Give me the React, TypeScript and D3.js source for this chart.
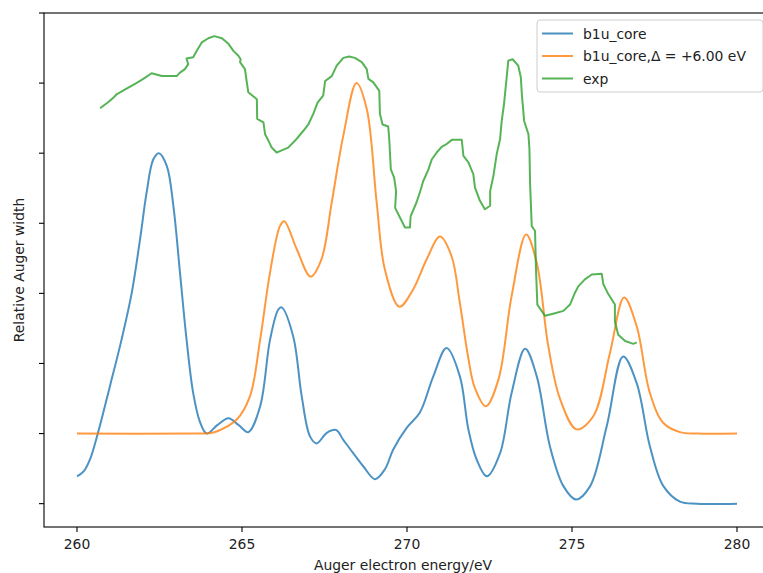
import React from "react";
import * as d3 from "d3";

// energies (eV) and relative widths
const b1uCore: [number, number][] = [
  [260.0, 0.39], [260.2, 0.46], [260.4, 0.64], [260.63, 1.0], [261.0, 1.68],
  [261.35, 2.34], [261.66, 3.01], [261.91, 3.77], [262.11, 4.44], [262.31, 4.91],
  [262.48, 5.0], [262.72, 4.82], [262.92, 4.25], [263.12, 3.3], [263.32, 2.34],
  [263.52, 1.58], [263.73, 1.16], [263.93, 1.0], [264.25, 1.12], [264.59, 1.22],
  [264.9, 1.12], [265.19, 1.02], [265.55, 1.39], [265.85, 2.34], [266.1, 2.77],
  [266.2, 2.8], [266.55, 2.39], [266.81, 1.53], [267.06, 0.96], [267.26, 0.86],
  [267.57, 1.01], [267.85, 1.05], [268.07, 0.91], [268.37, 0.72], [268.68, 0.53],
  [269.03, 0.35], [269.33, 0.49], [269.58, 0.77], [269.99, 1.08], [270.39, 1.3],
  [270.8, 1.82], [271.2, 2.22], [271.6, 1.82], [271.86, 1.06], [272.11, 0.63],
  [272.42, 0.39], [272.82, 0.72], [273.17, 1.58], [273.58, 2.21], [273.93, 1.82],
  [274.33, 0.82], [274.74, 0.25], [275.12, 0.06], [275.55, 0.25], [276.05, 1.1],
  [276.55, 2.1], [276.96, 1.72], [277.36, 0.82], [277.77, 0.25], [278.27, 0.03],
  [278.8, 0.0], [280.0, 0.0],
];

const b1uShifted: [number, number][] = [
  [260.0, 1.0], [263.5, 1.0], [264.0, 1.005], [264.23, 1.03], [264.84, 1.2],
  [265.24, 1.53], [265.55, 2.34], [265.85, 3.3], [266.15, 3.96], [266.28, 4.03],
  [266.66, 3.63], [267.08, 3.24], [267.41, 3.49], [267.72, 4.3], [268.07, 5.25],
  [268.47, 6.0], [268.78, 5.63], [269.08, 4.3], [269.33, 3.34], [269.77, 2.81],
  [270.19, 3.06], [270.6, 3.49], [271.0, 3.81], [271.35, 3.53], [271.6, 2.87],
  [271.85, 2.1], [272.05, 1.66], [272.39, 1.39], [272.77, 1.77], [273.17, 2.96],
  [273.61, 3.84], [273.93, 3.44], [274.28, 2.25], [274.64, 1.49], [275.14, 1.06],
  [275.65, 1.25], [276.15, 2.15], [276.58, 2.94], [276.96, 2.53], [277.36, 1.58],
  [277.77, 1.15], [278.27, 1.02], [278.8, 1.0], [280.0, 1.0],
];

const expData: [number, number][] = [
  [260.7, 5.64], [260.95, 5.73], [261.1, 5.79], [261.2, 5.84], [261.46, 5.91],
  [261.76, 5.99], [262.01, 6.06], [262.26, 6.14], [262.57, 6.1], [263.02, 6.1],
  [263.12, 6.15], [263.27, 6.2], [263.37, 6.27], [263.32, 6.35], [263.52, 6.37],
  [263.63, 6.46], [263.78, 6.58], [263.98, 6.64], [264.16, 6.67], [264.39, 6.64],
  [264.59, 6.56], [264.74, 6.46], [264.89, 6.39], [264.96, 6.34], [264.94, 6.3],
  [265.09, 6.2], [265.14, 6.03], [265.19, 5.87], [265.45, 5.77], [265.46, 5.49],
  [265.65, 5.44], [265.7, 5.27], [265.8, 5.18], [265.9, 5.08], [266.05, 5.01],
  [266.15, 5.03], [266.4, 5.08], [266.61, 5.18], [266.86, 5.32], [267.01, 5.41],
  [267.16, 5.56], [267.29, 5.72], [267.46, 5.82], [267.52, 6.03], [267.72, 6.1],
  [267.87, 6.25], [268.07, 6.36], [268.25, 6.38], [268.42, 6.36], [268.63, 6.3],
  [268.78, 6.2], [268.83, 6.06], [268.98, 6.01], [269.16, 5.89], [269.18, 5.56],
  [269.26, 5.41], [269.43, 5.38], [269.46, 5.22], [269.51, 4.77], [269.61, 4.65],
  [269.67, 4.46], [269.64, 4.22], [269.79, 4.08], [269.94, 3.94], [270.09, 3.94],
  [270.11, 4.1], [270.29, 4.3], [270.39, 4.44], [270.49, 4.6], [270.65, 4.77],
  [270.75, 4.91], [270.9, 5.01], [271.05, 5.09], [271.2, 5.13], [271.36, 5.19],
  [271.66, 5.19], [271.71, 4.96], [271.86, 4.87], [272.01, 4.7], [272.06, 4.51],
  [272.21, 4.32], [272.36, 4.2], [272.52, 4.25], [272.52, 4.46], [272.62, 4.68],
  [272.72, 4.99], [272.82, 5.2], [272.87, 5.46], [272.94, 5.7], [273.02, 6.08],
  [273.07, 6.32], [273.2, 6.34], [273.37, 6.25], [273.45, 6.08], [273.48, 5.84],
  [273.55, 5.46], [273.68, 5.27], [273.71, 5.06], [273.73, 4.56], [273.78, 3.96],
  [273.88, 3.89], [273.91, 3.32], [273.95, 2.84], [274.18, 2.68], [274.43, 2.71],
  [274.74, 2.75], [274.94, 2.84], [275.09, 3.01], [275.19, 3.1], [275.39, 3.2],
  [275.6, 3.27], [275.9, 3.28], [275.95, 3.13], [276.1, 2.99], [276.3, 2.84],
  [276.3, 2.6], [276.4, 2.41], [276.61, 2.32], [276.86, 2.28], [276.96, 2.3],
];

const yTicks = [0, 1, 2, 3, 4, 5, 6, 7];
const xTicks = [260, 265, 270, 275, 280];

const series = [
  { name: "b1u_core", color: "#1f77b4", data: b1uCore, smooth: true },
  { name: "b1u_core,Δ = +6.00 eV", color: "#ff7f0e", data: b1uShifted, smooth: true },
  { name: "exp", color: "#2ca02c", data: expData, smooth: false },
];

const W = 763;
const H = 573;
const font = "DejaVu Sans, sans-serif";

export default function App() {
  const left = 44;
  const top = 13;
  const bottom = 527;

  // xlim 259..281, the right edge of the figure is cut off
  const x = d3.scaleLinear().domain([259, 281]).range([left, 770]);
  const y = d3.scaleLinear().domain([-0.333, 7.0]).range([bottom, top]);

  const makeLine = (smooth: boolean) =>
    d3
      .line<[number, number]>()
      .x((d) => x(d[0]))
      .y((d) => y(d[1]))
      .curve(smooth ? d3.curveCatmullRom.alpha(0.5) : d3.curveLinear);

  return (
    <svg
      width={W}
      height={H}
      style={{ position: "absolute", left: 0, top: 0, background: "#fff" }}
      fontFamily={font}
    >
      {series.map((s) => (
        <path
          key={s.name}
          d={makeLine(s.smooth)(s.data) || ""}
          fill="none"
          stroke={s.color}
          strokeOpacity={0.8}
          strokeWidth={2}
          strokeLinejoin="round"
        />
      ))}

      <rect
        x={left}
        y={top}
        width={770 - left}
        height={bottom - top}
        fill="none"
        stroke="#000"
        strokeWidth={1.1}
      />

      {yTicks.map((t) => (
        <line key={t} x1={left - 5} x2={left} y1={y(t)} y2={y(t)} stroke="#000" strokeWidth={1.1} />
      ))}
      {xTicks.map((t) => (
        <g key={t}>
          <line x1={x(t)} x2={x(t)} y1={bottom} y2={bottom + 5} stroke="#000" strokeWidth={1.1} />
          <text x={x(t)} y={549} textAnchor="middle" fontSize={13.9} fill="#222">
            {t}
          </text>
        </g>
      ))}

      <text x={403} y={570} textAnchor="middle" fontSize={13.9} fill="#222">
        Auger electron energy/eV
      </text>
      <text
        transform={`translate(24,${(top + bottom) / 2}) rotate(-90)`}
        textAnchor="middle"
        fontSize={13.9}
        fill="#222"
      >
        Relative Auger width
      </text>

      {/* legend */}
      <g transform="translate(537,20)">
        <rect width={226} height={72} rx={3} fill="#fff" fillOpacity={0.8} stroke="#ccc" />
        {series.map((s, i) => (
          <g key={s.name} transform={`translate(0,${13.5 + i * 22.5})`}>
            <line x1={5} x2={36} stroke={s.color} strokeOpacity={0.8} strokeWidth={2} />
            <text x={46} y={5} fontSize={13.9} fill="#222">
              {s.name}
            </text>
          </g>
        ))}
      </g>
    </svg>
  );
}
